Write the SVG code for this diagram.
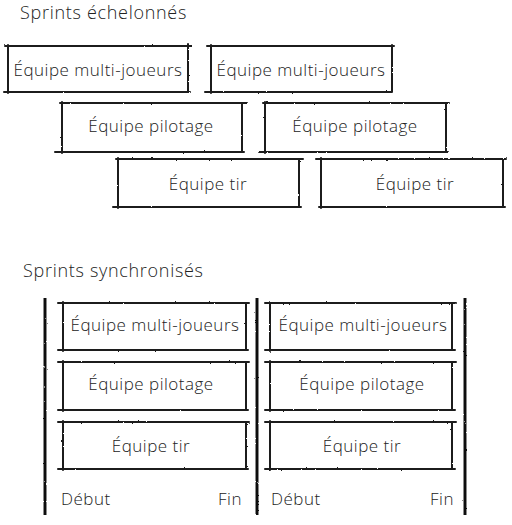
<svg xmlns="http://www.w3.org/2000/svg" width="512" height="525" viewBox="0 0 512 525">
<defs>
<filter id="rough" x="-5%" y="-5%" width="110%" height="110%">
<feTurbulence type="fractalNoise" baseFrequency="0.35" numOctaves="2" seed="3" result="n"/>
<feDisplacementMap in="SourceGraphic" in2="n" scale="1.8" xChannelSelector="R" yChannelSelector="G"/>
</filter>
</defs>
<style>
.ln{fill:none;stroke:#1a1a1a;stroke-width:2;stroke-linecap:round;filter:url(#rough)}
.bar{fill:none;stroke:#111;stroke-width:3;filter:url(#rough)}
.t{font-family:"Open Sans","Liberation Sans",sans-serif;font-weight:300;font-size:17px;letter-spacing:0.5px;fill:#222;text-anchor:middle}
.h{font-family:"Open Sans","Liberation Sans",sans-serif;font-weight:300;font-size:18px;letter-spacing:0.7px;fill:#222}
.e{font-family:"Open Sans","Liberation Sans",sans-serif;font-weight:300;font-size:17px;letter-spacing:0.5px;fill:#222}
</style>
<rect width="512" height="525" fill="#fff"/>
<text class="h" x="20" y="19">Sprints échelonnés</text>
<g id="stag-mj-1"><path class="ln" d="M5,46H192M4,92H190M8,45V93M188,44V92"/><text class="t" x="98" y="76">Équipe multi-joueurs</text></g>
<g id="stag-mj-2"><path class="ln" d="M207,46H394M205,92H392M211,45V93M392,45V92"/><text class="t" x="301" y="76">Équipe multi-joueurs</text></g>
<g id="stag-pil-1"><path class="ln" d="M60,103H247M55,152H244M62,102V153M242,103V152"/><text class="t" x="151" y="132">Équipe pilotage</text></g>
<g id="stag-pil-2"><path class="ln" d="M263,103H449M259,152H448M265,102V153M446,103V152"/><text class="t" x="355" y="132">Équipe pilotage</text></g>
<g id="stag-tir-1"><path class="ln" d="M116,159H303M113,207H301M118,158V208M299,159V207"/><text class="t" x="208" y="190">Équipe tir</text></g>
<g id="stag-tir-2"><path class="ln" d="M316,159H506M319,207H505M321,158V208M503,159V207"/><text class="t" x="415" y="190">Équipe tir</text></g>

<text class="h" x="23" y="277">Sprints synchronisés</text>
<g id="bars"><path class="bar" d="M45,298V515M257,298V515M465,298V515"/></g>
<g id="sync-mj-1"><path class="ln" d="M58,303H249M58,350H248M63,302V351M246,303V350"/><text class="t" x="155" y="331">Équipe multi-joueurs</text></g>
<g id="sync-pil-1"><path class="ln" d="M58,362H249M58,410H248M63,361V411M246,362V410"/><text class="t" x="151" y="390">Équipe pilotage</text></g>
<g id="sync-tir-1"><path class="ln" d="M58,422H249M58,469H248M63,421V470M246,422V469"/><text class="t" x="151" y="452">Équipe tir</text></g>
<g id="sync-mj-2"><path class="ln" d="M265,303H456M265,350H455M270,302V351M452,303V350"/><text class="t" x="363" y="331">Équipe multi-joueurs</text></g>
<g id="sync-pil-2"><path class="ln" d="M265,362H456M265,410H455M270,361V411M452,362V410"/><text class="t" x="362" y="390">Équipe pilotage</text></g>
<g id="sync-tir-2"><path class="ln" d="M265,422H456M265,469H455M270,421V470M452,422V469"/><text class="t" x="362" y="452">Équipe tir</text></g>
<g id="labels">
<text class="e" x="61" y="505">Début</text>
<text class="e" x="242" y="505" text-anchor="end">Fin</text>
<text class="e" x="271" y="505">Début</text>
<text class="e" x="454" y="505" text-anchor="end">Fin</text>
</g>
</svg>
